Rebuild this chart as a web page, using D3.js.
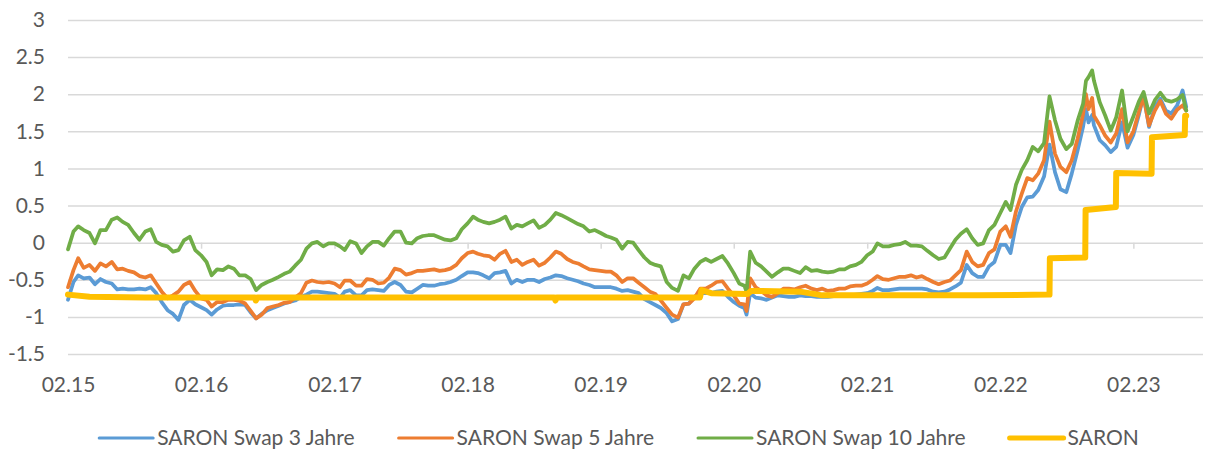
<!DOCTYPE html>
<html>
<head>
<meta charset="utf-8">
<script src="https://cdn.jsdelivr.net/npm/d3@7"></script>
<style>
  html, body { margin: 0; padding: 0; background: #ffffff; }
  svg { display: block; }
  text { font-family: Lato, "Open Sans", sans-serif; fill: #595959; }
</style>
</head>
<body>
<svg id="chart" width="1205" height="449"></svg>
<script>
// ---------- DATA ----------
const seriesNames = ["SARON Swap 3 Jahre", "SARON Swap 5 Jahre", "SARON Swap 10 Jahre", "SARON"];
const seriesColors = ["#5B9BD5", "#ED7D31", "#70AD47", "#FFC000"];

const yTickValues = [-1.5, -1, -0.5, 0, 0.5, 1, 1.5, 2, 2.5, 3];
const xTickLabels = ["02.15", "02.16", "02.17", "02.18", "02.19", "02.20", "02.21", "02.22", "02.23"];

const swapDates = [
  "2015-02-01","2015-02-16","2015-03-01","2015-03-16","2015-04-01","2015-04-16","2015-05-01","2015-05-16","2015-06-01","2015-06-16","2015-07-01","2015-07-16",
  "2015-08-01","2015-08-16","2015-09-01","2015-09-16","2015-10-01","2015-10-16","2015-11-01","2015-11-16","2015-12-01","2015-12-16",
  "2016-01-01","2016-01-16","2016-02-01","2016-02-16","2016-03-01","2016-03-16","2016-04-01","2016-04-16","2016-05-01","2016-05-16","2016-06-01","2016-06-16",
  "2016-07-01","2016-07-16","2016-08-01","2016-08-16","2016-09-01","2016-09-16","2016-10-01","2016-10-16","2016-11-01","2016-11-16","2016-12-01","2016-12-16",
  "2017-01-01","2017-01-16","2017-02-01","2017-02-16","2017-03-01","2017-03-16","2017-04-01","2017-04-16","2017-05-01","2017-05-16","2017-06-01","2017-06-16",
  "2017-07-01","2017-07-16","2017-08-01","2017-08-16","2017-09-01","2017-09-16","2017-10-01","2017-10-16","2017-11-01","2017-11-16","2017-12-01","2017-12-16",
  "2018-01-01","2018-01-16","2018-02-01","2018-02-16","2018-03-01","2018-03-16","2018-04-01","2018-04-16","2018-05-01","2018-05-16","2018-06-01","2018-06-16",
  "2018-07-01","2018-07-16","2018-08-01","2018-08-16","2018-09-01","2018-09-16","2018-10-01","2018-10-16","2018-11-01","2018-11-16","2018-12-01","2018-12-16",
  "2019-01-01","2019-01-16","2019-02-01","2019-02-16","2019-03-01","2019-03-16","2019-04-01","2019-04-16","2019-05-01","2019-05-16","2019-06-01","2019-06-16",
  "2019-07-01","2019-07-16","2019-08-01","2019-08-16","2019-09-01","2019-09-16","2019-10-01","2019-10-16","2019-11-01","2019-11-16","2019-12-01","2019-12-16",
  "2020-01-01","2020-01-16","2020-02-01","2020-02-16","2020-03-01","2020-03-07","2020-03-17","2020-04-01","2020-04-16","2020-05-01","2020-05-16","2020-06-01","2020-06-16",
  "2020-07-01","2020-07-16","2020-08-01","2020-08-16","2020-09-01","2020-09-16","2020-10-01","2020-10-16","2020-11-01","2020-11-16","2020-12-01","2020-12-16",
  "2021-01-01","2021-01-16","2021-02-01","2021-02-16","2021-03-01","2021-03-16","2021-04-01","2021-04-16","2021-05-01","2021-05-16","2021-06-01","2021-06-16",
  "2021-07-01","2021-07-16","2021-08-01","2021-08-16","2021-09-01","2021-09-16","2021-10-01","2021-10-16",
  "2021-11-01","2021-11-16","2021-12-01","2021-12-16","2022-01-01","2022-01-16",
  "2022-02-01","2022-02-16","2022-03-01","2022-03-16","2022-04-01","2022-04-16","2022-05-01","2022-05-16","2022-06-01","2022-06-16",
  "2022-07-01","2022-07-16","2022-08-01","2022-08-16","2022-09-01","2022-09-16","2022-09-24","2022-10-01","2022-10-11","2022-10-16","2022-11-01","2022-11-16","2022-12-01","2022-12-16",
  "2023-01-01","2023-01-16","2023-02-01","2023-02-16","2023-03-01","2023-03-16","2023-04-01","2023-04-16","2023-05-01","2023-05-16","2023-06-01","2023-06-16","2023-06-26"
];

const swap3 = [
  -0.77,-0.53,-0.44,-0.48,-0.47,-0.56,-0.49,-0.53,-0.55,-0.63,-0.62,-0.63,-0.63,-0.62,-0.63,-0.60,-0.68,-0.80,-0.91,-0.96,-1.04,-0.84,
  -0.77,-0.83,-0.87,-0.91,-0.97,-0.90,-0.85,-0.84,-0.84,-0.83,-0.84,-0.94,-1.02,-0.96,-0.91,-0.88,-0.85,-0.82,-0.80,-0.78,-0.73,-0.70,-0.66,-0.66,
  -0.67,-0.68,-0.69,-0.74,-0.66,-0.64,-0.71,-0.71,-0.64,-0.63,-0.64,-0.65,-0.57,-0.53,-0.57,-0.66,-0.67,-0.62,-0.57,-0.58,-0.58,-0.56,-0.55,-0.53,
  -0.50,-0.45,-0.40,-0.40,-0.41,-0.44,-0.48,-0.41,-0.40,-0.38,-0.55,-0.50,-0.53,-0.50,-0.50,-0.53,-0.49,-0.47,-0.44,-0.45,-0.48,-0.50,-0.52,-0.55,
  -0.57,-0.60,-0.60,-0.60,-0.60,-0.62,-0.65,-0.64,-0.66,-0.68,-0.76,-0.80,-0.84,-0.88,-0.95,-1.06,-1.03,-0.83,-0.82,-0.73,-0.68,-0.68,-0.68,-0.66,
  -0.65,-0.73,-0.80,-0.85,-0.88,-0.97,-0.68,-0.74,-0.75,-0.77,-0.74,-0.71,-0.72,-0.73,-0.73,-0.71,-0.72,-0.72,-0.73,-0.73,-0.73,-0.72,-0.71,-0.71,-0.71,
  -0.70,-0.69,-0.68,-0.65,-0.61,-0.64,-0.64,-0.63,-0.62,-0.62,-0.62,-0.62,-0.62,-0.63,-0.66,-0.67,-0.66,-0.63,-0.59,-0.54,
  -0.30,-0.41,-0.46,-0.46,-0.32,-0.26,
  -0.03,-0.03,-0.14,0.24,0.48,0.61,0.62,0.71,0.89,1.32,
  0.95,0.72,0.68,0.93,1.24,1.56,1.80,1.62,1.72,1.58,1.38,1.31,1.22,1.29,
  1.62,1.28,1.45,1.72,1.99,1.56,1.83,1.94,1.78,1.74,1.85,2.05,1.83
];

const swap5 = [
  -0.60,-0.37,-0.21,-0.34,-0.30,-0.38,-0.28,-0.32,-0.26,-0.36,-0.35,-0.38,-0.40,-0.45,-0.47,-0.44,-0.55,-0.66,-0.75,-0.71,-0.66,-0.57,
  -0.53,-0.65,-0.75,-0.77,-0.86,-0.80,-0.80,-0.77,-0.77,-0.78,-0.82,-0.92,-1.02,-0.97,-0.88,-0.86,-0.84,-0.81,-0.80,-0.74,-0.68,-0.54,-0.51,-0.53,
  -0.54,-0.53,-0.55,-0.60,-0.51,-0.51,-0.58,-0.58,-0.49,-0.50,-0.55,-0.54,-0.47,-0.35,-0.37,-0.43,-0.41,-0.38,-0.38,-0.37,-0.36,-0.38,-0.37,-0.35,
  -0.30,-0.21,-0.14,-0.12,-0.15,-0.17,-0.18,-0.23,-0.15,-0.11,-0.26,-0.23,-0.30,-0.26,-0.23,-0.31,-0.27,-0.20,-0.12,-0.15,-0.22,-0.26,-0.28,-0.32,
  -0.36,-0.37,-0.38,-0.39,-0.39,-0.44,-0.53,-0.48,-0.48,-0.54,-0.60,-0.66,-0.69,-0.78,-0.88,-0.97,-1.01,-0.83,-0.82,-0.75,-0.62,-0.62,-0.58,-0.53,
  -0.52,-0.62,-0.71,-0.82,-0.83,-0.92,-0.48,-0.60,-0.65,-0.71,-0.73,-0.68,-0.62,-0.62,-0.63,-0.60,-0.58,-0.62,-0.64,-0.62,-0.65,-0.64,-0.62,-0.62,-0.59,
  -0.58,-0.58,-0.55,-0.50,-0.45,-0.49,-0.50,-0.48,-0.46,-0.46,-0.44,-0.47,-0.45,-0.49,-0.53,-0.56,-0.53,-0.51,-0.44,-0.37,
  -0.12,-0.26,-0.32,-0.30,-0.14,-0.09,
  0.15,0.22,0.08,0.42,0.66,0.87,0.84,0.93,1.11,1.63,
  1.20,1.02,0.95,1.11,1.40,1.73,2.00,1.80,1.95,1.71,1.58,1.44,1.35,1.47,
  1.80,1.35,1.50,1.76,1.96,1.58,1.78,1.91,1.74,1.67,1.79,1.85,1.78
];

const swap10 = [
  -0.09,0.15,0.22,0.17,0.13,-0.01,0.17,0.17,0.31,0.34,0.28,0.24,0.13,0.04,0.15,0.18,0.01,-0.03,-0.05,-0.12,-0.10,0.03,
  0.08,-0.10,-0.17,-0.26,-0.44,-0.36,-0.37,-0.32,-0.35,-0.44,-0.44,-0.49,-0.64,-0.57,-0.53,-0.50,-0.46,-0.42,-0.39,-0.31,-0.23,-0.08,-0.01,0.01,
  -0.05,-0.01,-0.01,-0.05,-0.10,0.02,-0.01,-0.14,-0.05,0.01,0.01,-0.04,0.06,0.15,0.15,0.00,-0.01,0.06,0.09,0.10,0.10,0.07,0.04,0.03,
  0.06,0.18,0.26,0.35,0.31,0.28,0.26,0.28,0.31,0.35,0.19,0.24,0.22,0.26,0.30,0.20,0.24,0.31,0.40,0.37,0.33,0.29,0.25,0.22,
  0.15,0.17,0.13,0.09,0.07,0.04,-0.08,0.01,0.00,-0.10,-0.20,-0.27,-0.30,-0.32,-0.53,-0.61,-0.65,-0.44,-0.48,-0.35,-0.26,-0.22,-0.26,-0.22,
  -0.18,-0.28,-0.41,-0.55,-0.58,-0.66,-0.12,-0.27,-0.32,-0.39,-0.46,-0.40,-0.35,-0.35,-0.38,-0.41,-0.33,-0.38,-0.37,-0.39,-0.40,-0.39,-0.36,-0.36,-0.32,
  -0.30,-0.26,-0.17,-0.12,-0.01,-0.05,-0.05,-0.03,-0.02,0.01,-0.04,-0.04,-0.05,-0.11,-0.17,-0.22,-0.20,-0.08,0.04,0.12,
  0.18,0.06,-0.03,-0.01,0.17,0.24,
  0.40,0.55,0.44,0.78,0.98,1.11,1.29,1.23,1.34,1.97,
  1.65,1.40,1.26,1.33,1.64,1.87,2.18,2.23,2.32,2.18,1.89,1.71,1.51,1.69,
  2.05,1.50,1.70,1.90,2.03,1.74,1.92,2.02,1.92,1.90,1.93,1.99,1.78
];

const saronDates = [
  "2015-02-01","2015-04-01","2015-09-01","2016-06-28","2016-06-30","2016-07-04","2017-06-01","2018-01-01",
  "2018-09-27","2018-09-30","2018-10-03","2019-10-31","2019-11-05","2019-12-01","2020-03-10","2020-03-20",
  "2020-08-01","2020-10-01","2021-06-01","2021-12-01","2022-06-16","2022-06-17","2022-09-22","2022-09-23",
  "2022-12-15","2022-12-16","2023-03-23","2023-03-24","2023-06-22","2023-06-23","2023-06-26"
];
const saronValues = [
  -0.70,-0.73,-0.74,-0.74,-0.78,-0.74,-0.74,-0.74,
  -0.74,-0.78,-0.74,-0.74,-0.64,-0.68,-0.69,-0.65,
  -0.66,-0.71,-0.71,-0.71,-0.70,-0.21,-0.20,0.44,
  0.48,0.94,0.93,1.42,1.45,1.71,1.71
];

// ---------- CHART ----------
const parse = d3.timeParse("%Y-%m-%d");
const svg = d3.select("#chart");

const plotLeft = 68, plotRight = 1203, plotTop = 20, plotBottom = 354;
const x = d3.scaleTime()
  .domain([parse("2015-02-01"), parse("2023-08-11")])
  .range([plotLeft, plotRight]);
const y = d3.scaleLinear().domain([-1.5, 3]).range([plotBottom, plotTop]);

// gridlines
const grid = svg.append("g")
  .attr("transform", `translate(${plotLeft},0)`)
  .call(d3.axisLeft(y).tickValues(yTickValues).tickSize(-(plotRight - plotLeft)).tickFormat(""));
grid.select(".domain").remove();
grid.selectAll("line").attr("stroke", "#D9D9D9").attr("stroke-width", 1.5);

// y labels
const yAxis = svg.append("g")
  .attr("transform", `translate(48,0)`)
  .call(d3.axisLeft(y).tickValues(yTickValues).tickSize(0).tickPadding(3)
    .tickFormat(d => String(d)));
yAxis.select(".domain").remove();
yAxis.selectAll("text").attr("font-size", 21).attr("font-family", "Lato").attr("fill", "#595959");

// x ticks on zero line
const xTickDates = xTickLabels.map(s => d3.timeParse("%m.%y")(s));
const xTicks = svg.append("g")
  .attr("transform", `translate(0,${y(0)})`)
  .call(d3.axisBottom(x).tickValues(xTickDates).tickSize(6).tickFormat(""));
xTicks.select(".domain").remove();
xTicks.selectAll("line").attr("stroke", "#D9D9D9").attr("stroke-width", 1.5);

// x labels at bottom
const xAxis = svg.append("g")
  .attr("transform", `translate(0,${plotBottom})`)
  .call(d3.axisBottom(x).tickValues(xTickDates).tickSize(0).tickPadding(23)
    .tickFormat((d, i) => xTickLabels[i]));
xAxis.select(".domain").remove();
xAxis.selectAll("text").attr("font-size", 21).attr("font-family", "Lato").attr("fill", "#595959");

// lines
const swapSeries = [swap3, swap5, swap10];
const sd = swapDates.map(parse);
const line = d3.line().x(d => x(d[0])).y(d => y(d[1])).curve(d3.curveLinear);

swapSeries.forEach((vals, i) => {
  svg.append("path")
    .datum(sd.map((d, j) => [d, vals[j]]).filter(p => p[1] !== undefined))
    .attr("fill", "none")
    .attr("stroke", seriesColors[i])
    .attr("stroke-width", 3.75)
    .attr("stroke-linejoin", "round")
    .attr("stroke-linecap", "round")
    .attr("d", line);
});

svg.append("path")
  .datum(saronDates.map((d, j) => [parse(d), saronValues[j]]))
  .attr("fill", "none")
  .attr("stroke", seriesColors[3])
  .attr("stroke-width", 6)
  .attr("stroke-linejoin", "round")
  .attr("stroke-linecap", "round")
  .attr("d", line);

// legend
const legend = svg.append("g");
const swatchW = 54, swatchGap = 4, itemGap = 44;
const items = seriesNames.map((name, i) => {
  const g = legend.append("g");
  g.append("line").attr("x1", 0).attr("x2", swatchW).attr("y1", 438).attr("y2", 438)
    .attr("stroke", seriesColors[i]).attr("stroke-width", i === 3 ? 5 : 3).attr("stroke-linecap", "round");
  const t = g.append("text").attr("x", swatchW + swatchGap).attr("y", 445)
    .attr("font-size", 21).attr("font-family", "Lato").attr("fill", "#595959").text(name);
  return { g, w: swatchW + swatchGap + t.node().getComputedTextLength() };
});
const total = d3.sum(items, d => d.w) + itemGap * (items.length - 1);
let cx = 619 - total / 2;
items.forEach(it => { it.g.attr("transform", `translate(${cx},0)`); cx += it.w + itemGap; });
</script>
</body>
</html>
